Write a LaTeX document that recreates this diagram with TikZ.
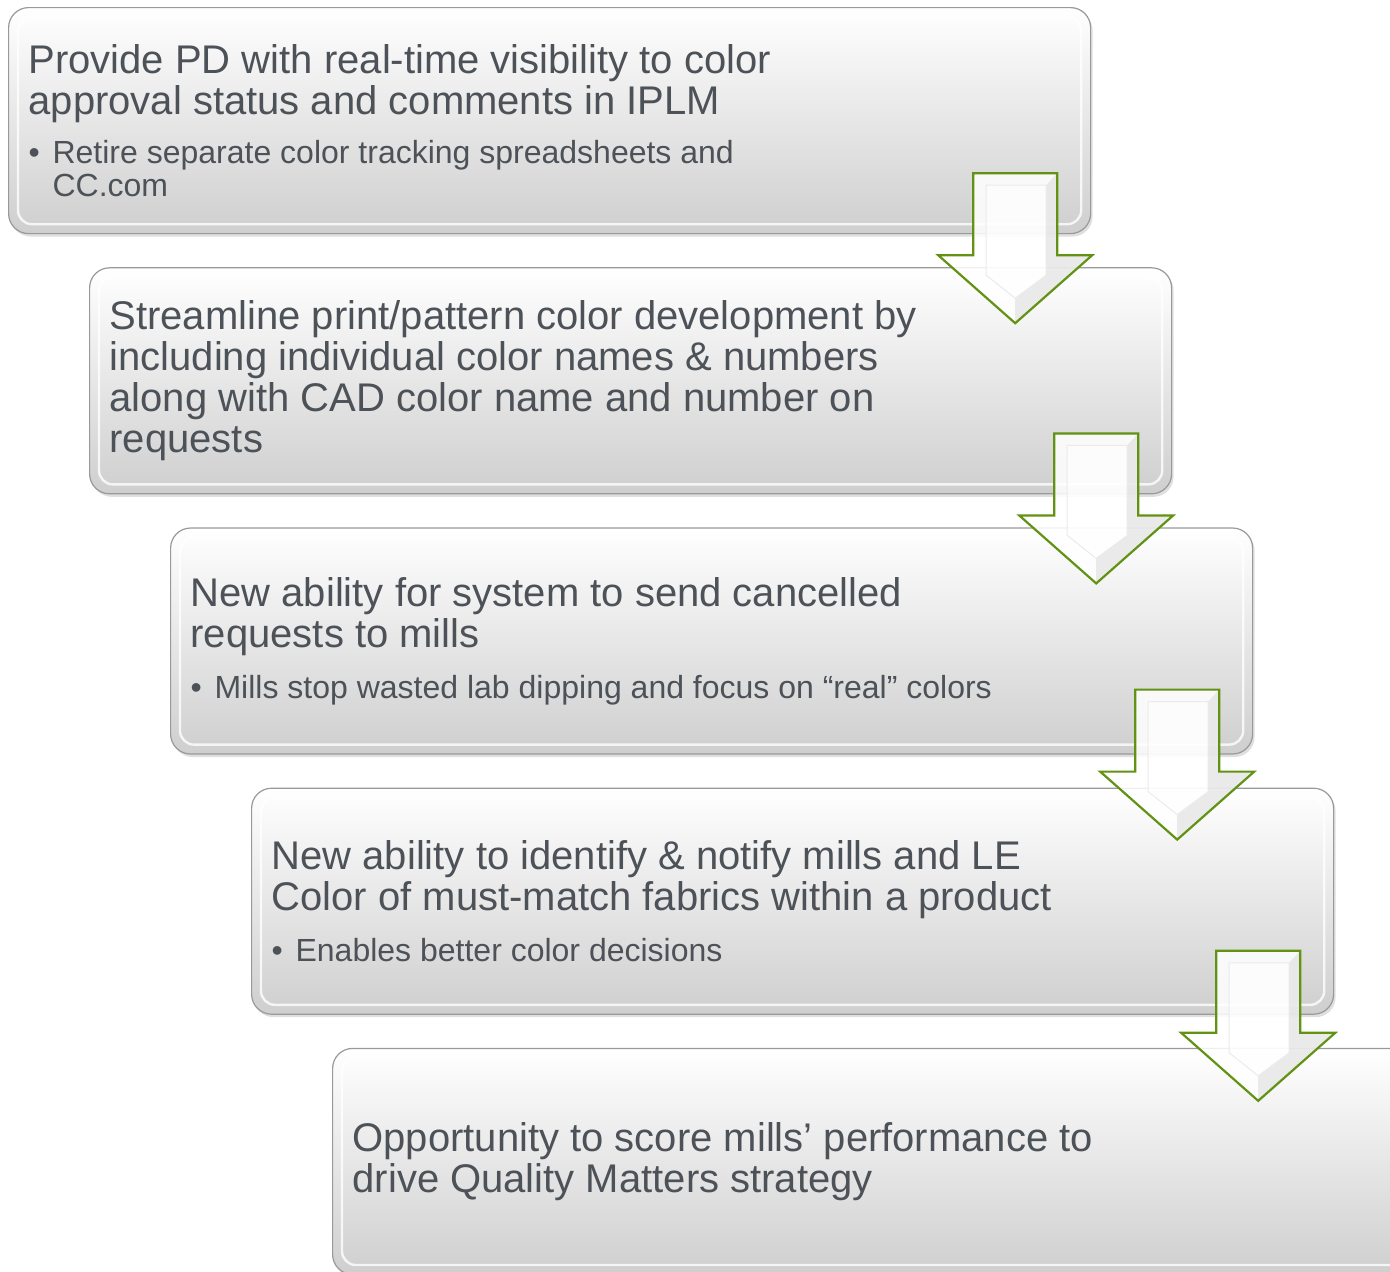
\documentclass[tikz,border=0pt]{standalone}
\usepackage{fontspec}
\setmainfont{Liberation Sans}
\usetikzlibrary{calc,shadows}

\definecolor{txtgray}{RGB}{77,82,88}
\definecolor{arrowgreen}{RGB}{98,146,20}

\newcommand{\bigtext}{\fontsize{20}{20.5}\selectfont}
\newcommand{\smalltext}{\fontsize{16}{16.5}\selectfont\spaceskip=0pt\xspaceskip=0pt}
\newcommand{\bitem}{\hangindent=12pt\hangafter=1\noindent\makebox[12pt][l]{\textbullet}}

\tikzset{
  stage/.style={draw=black!40, line width=0.6pt, rounded corners=10pt,
    top color=white, bottom color=black!19,
    minimum width=541pt, minimum height=113pt, text width=521pt, inner xsep=10pt,
    align=left, anchor=north west, text=txtgray, font=\bigtext,
    execute at begin node={\spaceskip=0pt\xspaceskip=0pt},
    drop shadow={opacity=0.25, shadow xshift=1pt, shadow yshift=-1.5pt}},
  rim/.style={draw=white, line width=1.2pt, rounded corners=7pt, opacity=0.8},
  pics/flowarrow/.style={code={
    % body
    \fill[white, fill opacity=0.85]
      (-42,0) -- (42,0) -- (42,82) -- (77,82) -- (0,150) -- (-77,82) -- (-42,82) -- cycle;
    % darker bevel on the right
    \fill[black!14, fill opacity=0.55]
      (42,0) -- (42,82) -- (77,82) -- (0,150) -- (0,125) -- (31,102) -- (31,12) -- cycle;
    \fill[white, fill opacity=0.6]
      (-29,12) -- (31,12) -- (31,102) -- (0,125) -- (-29,102) -- cycle;
    \draw[black!8, line width=0.5pt]
      (-29,12) -- (31,12) -- (31,102) -- (0,125) -- (-29,102) -- cycle;
    % outline
    \draw[arrowgreen, line width=1.1pt, line join=miter]
      (-42,0) -- (42,0) -- (42,82) -- (77,82) -- (0,150) -- (-77,82) -- (-42,82) -- cycle;
  }}
}

\begin{document}
\begin{tikzpicture}[x=0.5pt, y=-0.5pt]
  \useasboundingbox (0,0) rectangle (1390,1271);

  % the five stages
  \node[stage] (b1) at (8,7) {%
    Provide PD with real-time visibility to color\newline approval status and comments in IPLM\par
    \vspace{8pt}
    {\smalltext\bitem Retire separate color tracking spreadsheets and\newline CC.com\par}};
  \node[stage] (b2) at ($(b1.south west)+(81,33)$) {%
    Streamline print/pattern color development by\newline including individual color names \& numbers\newline along with CAD color name and number on\newline requests\par};
  \node[stage] (b3) at ($(b2.south west)+(81,33)$) {%
    New ability for system to send cancelled\newline requests to mills\par
    \vspace{9pt}
    {\smalltext\bitem Mills stop wasted lab dipping and focus on “real” colors\par}};
  \node[stage] (b4) at ($(b3.south west)+(81,33)$) {%
    New ability to identify \& notify mills and LE\newline Color of must-match fabrics within a product\par
    \vspace{9pt}
    {\smalltext\bitem Enables better color decisions\par}};
  \node[stage] (b5) at ($(b4.south west)+(81,33)$) {%
    Opportunity to score mills’ performance to\newline drive Quality Matters strategy\par};

  \foreach \b in {b1,b2,b3,b4,b5}
    \draw[rim] ($(\b.north west)+(10,10)$) rectangle ($(\b.south east)+(-10,-10)$);

  % arrows between stages
  \foreach \b/\dy in {b1/-61,b2/-61,b3/-65,b4/-64}
    \pic at ($(\b.south east)+(-76,\dy)$) {flowarrow};
\end{tikzpicture}
\end{document}
